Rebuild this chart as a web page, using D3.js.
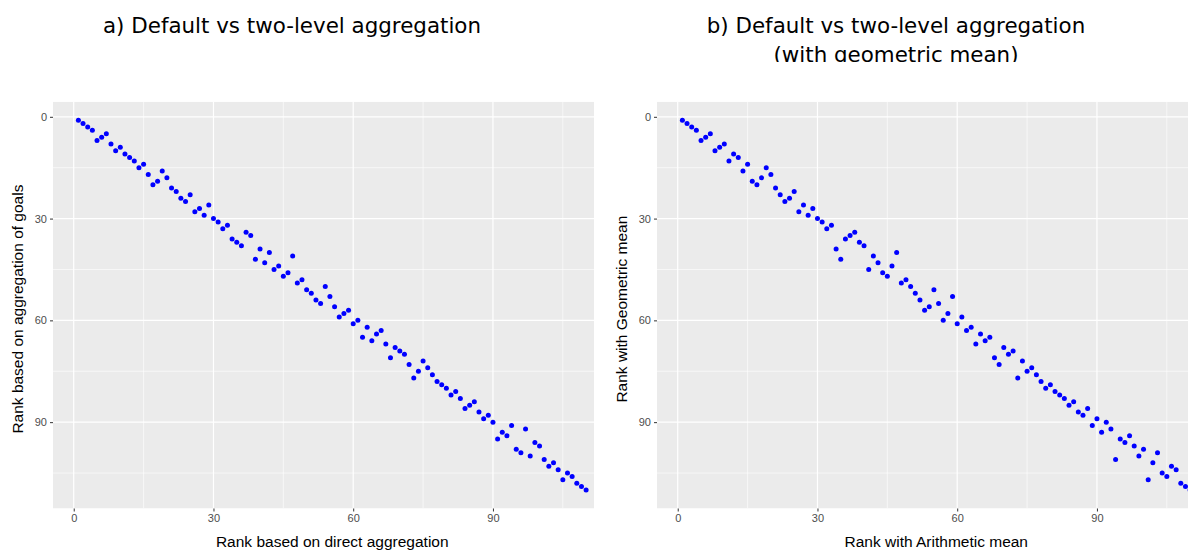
<!DOCTYPE html>
<html>
<head>
<meta charset="utf-8">
<script src="https://cdn.jsdelivr.net/npm/d3@7"></script>
<style>
  body { margin: 0; background: #fff; }
  .tick text { fill: #4d4d4d; font-family: "Liberation Sans", Arial, sans-serif; font-size: 11px; }
  .tick line { stroke: #333; }
  .axis-title { font-family: "Liberation Sans", Arial, sans-serif; font-size: 15.5px; fill: #000; }
  .plot-title { font-family: "DejaVu Sans", Verdana, sans-serif; font-size: 21.4px; fill: #000; }
</style>
</head>
<body>
<div id="chart"></div>
<script>
// rank values
const rankA = d3.range(1, 111);
const aggA = [1, 2, 3, 4, 7, 6, 5, 8, 10, 9, 11, 12, 13, 15, 14, 17, 20, 19, 16, 18,
  21, 22, 24, 25, 23, 28, 27, 29, 26, 30, 31, 33, 32, 36, 37, 38, 34, 35, 42, 39,
  43, 40, 45, 44, 47, 46, 41, 49, 48, 51, 52, 54, 55, 50, 53, 56, 59, 58, 57, 61,
  60, 65, 62, 66, 64, 63, 67, 71, 68, 69, 70, 73, 77, 75, 72, 74, 76, 78, 79, 80,
  82, 81, 83, 86, 85, 84, 87, 89, 88, 90, 95, 93, 94, 91, 98, 99, 92, 100, 96, 97,
  101, 103, 102, 104, 107, 105, 106, 108, 109, 110];

const rankB = d3.range(1, 111);
const geoB = [1, 2, 3, 4, 7, 6, 5, 10, 9, 8, 13, 11, 12, 16, 14, 19, 20, 18, 15, 17,
  21, 23, 25, 24, 22, 28, 26, 29, 27, 30, 31, 33, 32, 39, 42, 36, 35, 34, 37, 38,
  45, 41, 43, 46, 47, 44, 40, 49, 48, 50, 52, 54, 57, 56, 51, 55, 60, 58, 53, 61,
  59, 63, 62, 67, 64, 66, 65, 71, 73, 68, 70, 69, 77, 72, 75, 74, 76, 78, 80, 79,
  81, 82, 83, 85, 84, 87, 88, 86, 91, 89, 93, 90, 92, 101, 95, 96, 94, 97, 100, 98,
  107, 102, 99, 105, 106, 103, 104, 108, 109, 110];

const xTicks = [0, 30, 60, 90];
const yTicks = [0, 30, 60, 90];
const minorTicks = [15, 45, 75, 105];

const WIDTH = 1188, HEIGHT = 550;
const svg = d3.select("#chart").append("svg")
  .attr("width", WIDTH).attr("height", HEIGHT);

// titles are cut just below the second line in the original image
svg.append("clipPath").attr("id", "title-clip")
  .append("rect").attr("x", 0).attr("y", 0).attr("width", WIDTH).attr("height", 62);
const titles = svg.append("g").attr("clip-path", "url(#title-clip)");
titles.append("text").attr("class", "plot-title")
  .attr("x", 292).attr("y", 33).attr("text-anchor", "middle")
  .text("a) Default vs two-level aggregation");
titles.append("text").attr("class", "plot-title")
  .attr("x", 896).attr("y", 33).attr("text-anchor", "middle")
  .text("b) Default vs two-level aggregation");
titles.append("text").attr("class", "plot-title")
  .attr("x", 896).attr("y", 62).attr("text-anchor", "middle")
  .text("(with geometric mean)");

function drawPanel(id, left, visibleRight, xs, ys, xLabel, yLabel) {
  const TOP = 101.7, BOTTOM = 508.5;
  const fullWidth = 558.5;
  const x = d3.scaleLinear().domain([-4.45, 115.45]).range([left, left + fullWidth]);
  const y = d3.scaleLinear().domain([-4.45, 115.45]).range([TOP, BOTTOM]);

  const g = svg.append("g").attr("id", id);
  const clipW = Math.min(visibleRight, left + fullWidth) - left;
  svg.append("clipPath").attr("id", id + "-clip")
    .append("rect").attr("x", left).attr("y", TOP).attr("width", clipW).attr("height", BOTTOM - TOP);

  const panel = g.append("g").attr("clip-path", `url(#${id}-clip)`);
  panel.append("rect")
    .attr("x", left).attr("y", TOP)
    .attr("width", fullWidth).attr("height", BOTTOM - TOP)
    .attr("fill", "#ebebeb");

  // minor grid
  panel.selectAll(".vminor").data(minorTicks).join("line")
    .attr("x1", d => x(d)).attr("x2", d => x(d)).attr("y1", TOP).attr("y2", BOTTOM)
    .attr("stroke", "#fff").attr("stroke-width", 0.6);
  panel.selectAll(".hminor").data(minorTicks).join("line")
    .attr("y1", d => y(d)).attr("y2", d => y(d)).attr("x1", left).attr("x2", left + fullWidth)
    .attr("stroke", "#fff").attr("stroke-width", 0.6);
  // major grid
  panel.selectAll(".vmajor").data(xTicks).join("line")
    .attr("x1", d => x(d)).attr("x2", d => x(d)).attr("y1", TOP).attr("y2", BOTTOM)
    .attr("stroke", "#fff").attr("stroke-width", 1.2);
  panel.selectAll(".hmajor").data(yTicks).join("line")
    .attr("y1", d => y(d)).attr("y2", d => y(d)).attr("x1", left).attr("x2", left + fullWidth)
    .attr("stroke", "#fff").attr("stroke-width", 1.2);

  // points
  panel.selectAll("circle").data(xs).join("circle")
    .attr("cx", d => x(d)).attr("cy", (d, i) => y(ys[i]))
    .attr("r", 2.5).attr("fill", "#0000ff");

  // axes
  g.append("g")
    .attr("transform", `translate(0,${BOTTOM})`)
    .call(d3.axisBottom(x).tickValues(xTicks).tickSize(3).tickPadding(3))
    .call(a => a.select(".domain").remove());
  g.append("g")
    .attr("transform", `translate(${left},0)`)
    .call(d3.axisLeft(y).tickValues(yTicks).tickSize(3).tickPadding(3))
    .call(a => a.select(".domain").remove());

  g.append("text").attr("class", "axis-title")
    .attr("x", left + fullWidth / 2).attr("y", 547)
    .attr("text-anchor", "middle").text(xLabel);
  g.append("text").attr("class", "axis-title")
    .attr("transform", `translate(${left - 30},${(TOP + BOTTOM) / 2 + 4}) rotate(-90)`)
    .attr("text-anchor", "middle").text(yLabel);
}

drawPanel("pa", 53, 594, rankA, aggA,
  "Rank based on direct aggregation", "Rank based on aggregation of goals");
drawPanel("pb", 657, 1188, rankB, geoB,
  "Rank with Arithmetic mean", "Rank with Geometric mean");
</script>
</body>
</html>
